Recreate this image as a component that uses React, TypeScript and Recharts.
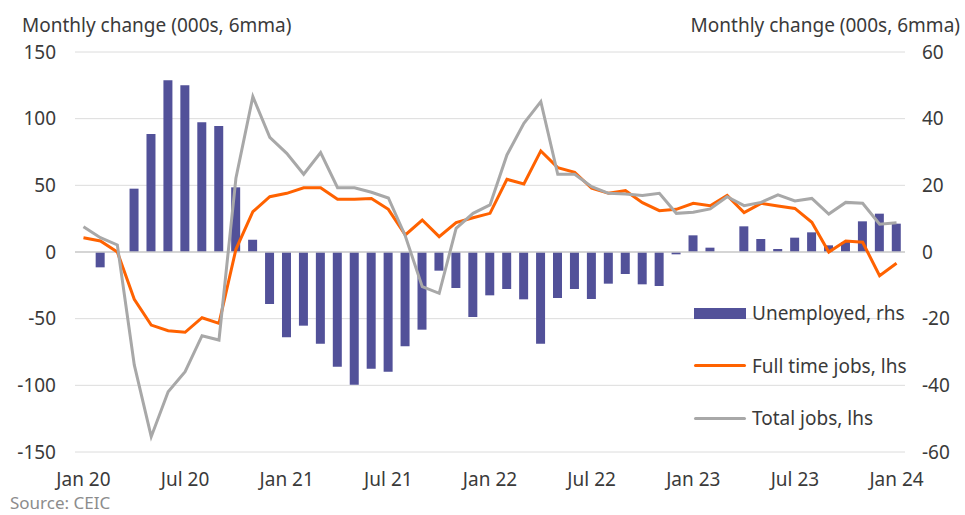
import React from 'react';
import { ComposedChart, Bar, Line, XAxis, YAxis, CartesianGrid, ReferenceLine, Legend } from 'recharts';

const months = [
  'Jan 20', 'Feb 20', 'Mar 20', 'Apr 20', 'May 20', 'Jun 20', 'Jul 20', 'Aug 20', 'Sep 20', 'Oct 20', 'Nov 20', 'Dec 20',
  'Jan 21', 'Feb 21', 'Mar 21', 'Apr 21', 'May 21', 'Jun 21', 'Jul 21', 'Aug 21', 'Sep 21', 'Oct 21', 'Nov 21', 'Dec 21',
  'Jan 22', 'Feb 22', 'Mar 22', 'Apr 22', 'May 22', 'Jun 22', 'Jul 22', 'Aug 22', 'Sep 22', 'Oct 22', 'Nov 22', 'Dec 22',
  'Jan 23', 'Feb 23', 'Mar 23', 'Apr 23', 'May 23', 'Jun 23', 'Jul 23', 'Aug 23', 'Sep 23', 'Oct 23', 'Nov 23', 'Dec 23',
  'Jan 24',
];

// rhs, 000s 6mma
const unemployed = [
  0, -4.6, 0, 19.0, 35.4, 51.5, 50.0, 38.9, 37.8, 19.4, 3.7, -15.6,
  -25.6, -22.1, -27.5, -34.4, -39.8, -35.0, -35.9, -28.3, -23.3, -5.6, -10.8, -19.5,
  -13.0, -11.1, -14.2, -27.5, -13.8, -11.1, -14.1, -9.5, -6.6, -9.7, -10.2, -0.7,
  5.0, 1.3, 0, 7.7, 3.9, 0.9, 4.3, 5.9, 2.0, 3.0, 9.2, 11.5,
  8.5,
];

// lhs
const fullTimeJobs = [
  10.7, 8.3, 0, -35.5, -54.8, -59, -60.2, -49.3, -53.5, 2, 30.2, 41.5,
  44, 48.2, 48.2, 39.5, 39.5, 40.2, 32, 12.8, 24, 11.5, 22, 25.7,
  29, 54.5, 51, 75.8, 63.3, 59.8, 47.8, 44, 46, 37, 31, 32,
  36.5, 34.7, 42.5, 29.5, 36.5, 34.5, 32.7, 22.3, 0, 8.3, 7.3, -17.8,
  -8.5,
];

// lhs
const totalJobs = [
  19, 10.7, 5.3, -84.7, -138.5, -104.8, -89.8, -62.8, -66, 55.3, 116.5, 86,
  74, 58.3, 74.5, 48.2, 48.2, 44.8, 40.5, 12, -26, -31, 17.8, 29,
  35.3, 72.8, 96.5, 112.8, 58.3, 58.3, 49, 44, 43.5, 42.3, 44, 29,
  29.8, 32.3, 41.5, 34.8, 37.2, 42.8, 38.3, 40.2, 28.5, 37.2, 36.5, 20.8,
  22,
];

const leftTicks = [-150, -100, -50, 0, 50, 100, 150];
const rightTicks = [-60, -40, -20, 0, 20, 40, 60];

const data = months.map((m, i) => ({
  month: m,
  unemployed: unemployed[i],
  fullTime: fullTimeJobs[i],
  total: totalJobs[i],
}));

const TEXT = '#3a3a3a';
const FONT = '"Noto Sans", sans-serif';

const legendItems = [
  { label: 'Unemployed, rhs', color: '#525199', kind: 'bar' },
  { label: 'Full time jobs, lhs', color: '#ff6200', kind: 'line' },
  { label: 'Total jobs, lhs', color: '#a8a8a8', kind: 'line' },
];

function ChartLegend() {
  return (
    <div>
      {legendItems.map((item) => (
        <div key={item.label} style={{ display: 'flex', alignItems: 'center', height: 52.5 }}>
          <div
            style={{
              width: 52,
              height: item.kind === 'bar' ? 11 : 3,
              background: item.color,
              borderRadius: item.kind === 'bar' ? 0 : 2,
              marginRight: 6,
            }}
          />
          <span style={{ fontSize: 19, color: TEXT, fontFamily: FONT, whiteSpace: 'nowrap' }}>{item.label}</span>
        </div>
      ))}
    </div>
  );
}

export default function App() {
  return (
    <div
      style={{
        position: 'absolute',
        left: 0,
        top: 0,
        width: 965,
        height: 515,
        background: '#fff',
        fontFamily: FONT,
        color: TEXT,
      }}
    >
      <ComposedChart
        width={965}
        height={515}
        data={data}
        margin={{ top: 52, right: 0, bottom: 0, left: 0 }}
        barCategoryGap="22%"
      >
        <CartesianGrid yAxisId="left" vertical={false} stroke="#dcdcdc" />
        <XAxis
          dataKey="month"
          interval={5}
          height={63}
          tickSize={0}
          tickMargin={21}
          axisLine={false}
          tickLine={false}
          tick={{ fill: TEXT, fontSize: 19, fontFamily: FONT }}
        />
        <YAxis
          yAxisId="left"
          domain={[-150, 150]}
          ticks={leftTicks}
          width={75}
          tickSize={0}
          tickMargin={19}
          axisLine={false}
          tickLine={false}
          tick={{ fill: TEXT, fontSize: 19, fontFamily: FONT }}
        />
        <YAxis
          yAxisId="right"
          orientation="right"
          domain={[-60, 60]}
          ticks={rightTicks}
          width={60}
          tickSize={0}
          tickMargin={17}
          axisLine={false}
          tickLine={false}
          tick={{ fill: TEXT, fontSize: 19, fontFamily: FONT }}
        />
        <ReferenceLine yAxisId="left" y={0} stroke="#cccccc" strokeWidth={1.5} />
        <Bar yAxisId="right" dataKey="unemployed" fill="#525199" isAnimationActive={false} />
        <Line
          yAxisId="left"
          type="linear"
          dataKey="fullTime"
          stroke="#ff6200"
          strokeWidth={3}
          dot={false}
          isAnimationActive={false}
        />
        <Line
          yAxisId="left"
          type="linear"
          dataKey="total"
          stroke="#a8a8a8"
          strokeWidth={3}
          dot={false}
          isAnimationActive={false}
        />
        <Legend
          layout="horizontal"
          verticalAlign="middle"
          content={() => <ChartLegend />}
          wrapperStyle={{ position: 'absolute', left: 694, top: 287, width: 230 }}
        />
      </ComposedChart>
      <div style={{ position: 'absolute', left: 22, top: 16, fontSize: 19, lineHeight: '19px', whiteSpace: 'nowrap' }}>
        Monthly change (000s, 6mma)
      </div>
      <div style={{ position: 'absolute', right: 5, top: 16, fontSize: 19, lineHeight: '19px', whiteSpace: 'nowrap' }}>
        Monthly change (000s, 6mma)
      </div>
      <div
        style={{
          position: 'absolute',
          left: 10,
          top: 493,
          fontSize: 17,
          lineHeight: '20px',
          color: '#8c8c8c',
          whiteSpace: 'nowrap',
        }}
      >
        Source: CEIC
      </div>
    </div>
  );
}
